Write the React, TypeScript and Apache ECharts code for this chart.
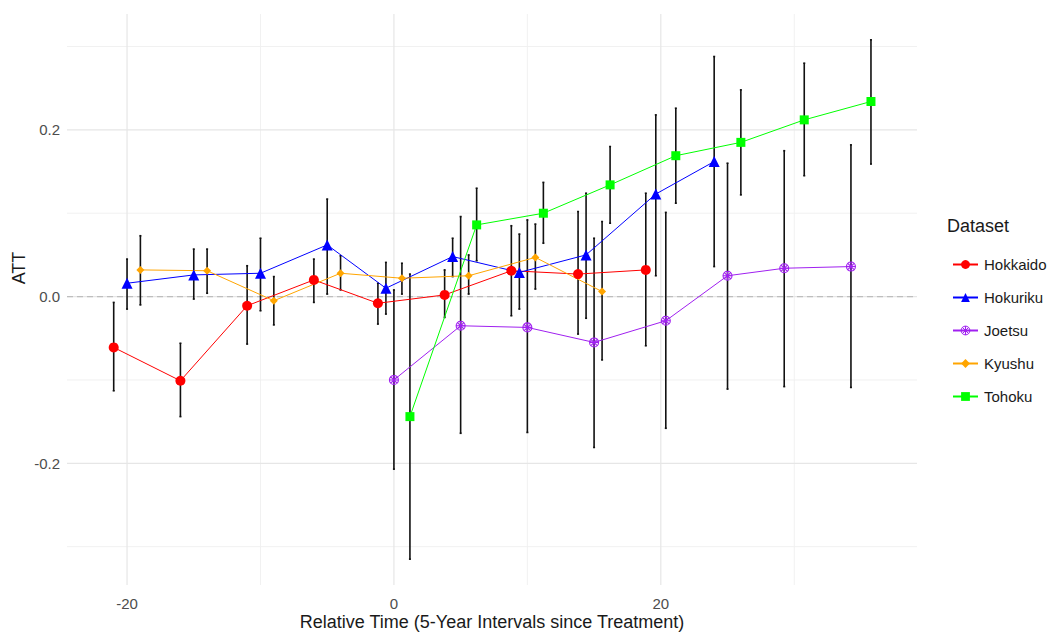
import React, { useEffect, useRef } from "react";
import * as echarts from "echarts";

const FONT = "'Liberation Sans', Arial, Helvetica, sans-serif";

const seriesNames = ["Hokkaido", "Hokuriku", "Joetsu", "Kyushu", "Tohoku"];
const seriesColors = ["#FF0000", "#0000FF", "#A020F0", "#FFA500", "#00FF00"];

// dodged relative-time positions, point estimates and CI bounds
const hokkaidoX = [-21, -16, -11, -6, -1.2, 3.8, 8.8, 13.8, 18.875];
const hokkaidoY = [-0.061, -0.101, -0.011, 0.02, -0.008, 0.002, 0.031, 0.027, 0.032];
const hokkaidoLo = [-0.113, -0.144, -0.057, -0.007, -0.033, -0.025, -0.023, -0.045, -0.059];
const hokkaidoHi = [-0.007, -0.056, 0.037, 0.045, 0.016, 0.032, 0.085, 0.102, 0.124];

const hokurikuX = [-20, -15, -10, -5, -0.6, 4.4, 9.4, 14.4, 19.625, 24];
const hokurikuY = [0.016, 0.026, 0.028, 0.062, 0.01, 0.048, 0.029, 0.05, 0.123, 0.162];
const hokurikuLo = [-0.015, -0.003, -0.017, 0.003, -0.021, 0.024, -0.015, -0.026, 0.025, 0.036];
const hokurikuHi = [0.045, 0.057, 0.07, 0.117, 0.041, 0.07, 0.075, 0.124, 0.218, 0.288];

const joetsuX = [0, 5, 10, 15, 20.375, 25, 29.25, 34.25];
const joetsuY = [-0.1, -0.035, -0.037, -0.055, -0.029, 0.025, 0.034, 0.036];
const joetsuLo = [-0.207, -0.164, -0.163, -0.181, -0.158, -0.111, -0.108, -0.109];
const joetsuHi = [0.008, 0.096, 0.092, 0.07, 0.101, 0.16, 0.175, 0.182];

const kyushuX = [-19, -14, -9, -4, 0.6, 5.6, 10.6, 15.6];
const kyushuY = [0.032, 0.031, -0.005, 0.028, 0.022, 0.025, 0.047, 0.006];
const kyushuLo = [-0.01, 0.004, -0.034, 0.008, 0.003, 0.003, 0.009, -0.076];
const kyushuHi = [0.073, 0.057, 0.024, 0.049, 0.04, 0.05, 0.087, 0.09];

const tohokuX = [1.2, 6.2, 11.2, 16.2, 21.125, 26, 30.75, 35.75];
const tohokuY = [-0.144, 0.086, 0.1, 0.134, 0.169, 0.185, 0.212, 0.234];
const tohokuLo = [-0.315, 0.043, 0.064, 0.088, 0.112, 0.122, 0.145, 0.159];
const tohokuHi = [0.027, 0.13, 0.137, 0.18, 0.226, 0.248, 0.28, 0.308];

const xMajorTicks = [-20, 0, 20];
const xMinorTicks = [-10, 10, 30];
const yMajorTicks = [-0.2, 0, 0.2];
const yMinorTicks = [-0.3, -0.1, 0.1, 0.3];

const JOETSU_SYMBOL =
  "path://M20,10 A10,10 0 1,1 0,10 A10,10 0 1,1 20,10 Z M3,3 L17,17 M17,3 L3,17 M10,0 L10,20 M0,10 L20,10";

const groups = [
  { x: hokkaidoX, y: hokkaidoY, lo: hokkaidoLo, hi: hokkaidoHi, symbol: "circle", size: 10 },
  { x: hokurikuX, y: hokurikuY, lo: hokurikuLo, hi: hokurikuHi, symbol: "triangle", size: 11 },
  { x: joetsuX, y: joetsuY, lo: joetsuLo, hi: joetsuHi, symbol: JOETSU_SYMBOL, size: 9 },
  { x: kyushuX, y: kyushuY, lo: kyushuLo, hi: kyushuHi, symbol: "diamond", size: 8 },
  { x: tohokuX, y: tohokuY, lo: tohokuLo, hi: tohokuHi, symbol: "rect", size: 9 },
];

export default function App() {
  const ref = useRef<HTMLDivElement>(null);

  useEffect(() => {
    if (!ref.current) return;
    const chart = echarts.init(ref.current, null, { renderer: "svg" });

    const errData: number[][] = [];
    groups.forEach((g) => g.x.forEach((v, i) => errData.push([v, g.lo[i], g.hi[i]])));

    // [x, y, orientation (1 = vertical line at x, 0 = horizontal at y), major flag]
    const gridData: number[][] = [
      ...xMinorTicks.map((v) => [v, 0, 1, 0]),
      ...yMinorTicks.map((v) => [0, v, 0, 0]),
      ...xMajorTicks.map((v) => [v, 0, 1, 1]),
      ...yMajorTicks.map((v) => [0, v, 0, 1]),
    ];

    const lineSeries = groups.map((g, k) => {
      const isJoetsu = k === 2;
      return {
        name: seriesNames[k],
        type: "line",
        data: g.x.map((v, i) => [v, g.y[i]]),
        symbol: g.symbol,
        symbolSize: g.size,
        showSymbol: true,
        z: 4,
        lineStyle: { color: seriesColors[k], width: 1 },
        itemStyle: isJoetsu
          ? { color: "rgba(160,32,240,0.08)", borderColor: seriesColors[k], borderWidth: 1.1 }
          : { color: seriesColors[k] },
        emphasis: { disabled: true },
      };
    });

    const legendData = seriesNames.map((n, k) =>
      k === 2
        ? { name: n, itemStyle: { color: "rgba(160,32,240,0.08)", borderColor: seriesColors[k], borderWidth: 1 } }
        : { name: n }
    );

    const option: any = {
      animation: false,
      textStyle: { fontFamily: FONT },
      grid: { left: 67, top: 14, width: 850, height: 571, containLabel: false, outerBoundsMode: "none" },
      xAxis: {
        type: "value",
        min: -24.5,
        max: 39.2,
        axisLine: { show: false },
        axisTick: { show: false },
        splitLine: { show: false },
        axisLabel: {
          customValues: xMajorTicks,
          color: "#4d4d4d",
          fontSize: 15,
          margin: 11,
          fontFamily: FONT,
          formatter: (v: number) => String(v),
        },
      },
      yAxis: {
        type: "value",
        min: -0.346,
        max: 0.339,
        axisLine: { show: false },
        axisTick: { show: false },
        splitLine: { show: false },
        axisLabel: {
          customValues: yMajorTicks,
          color: "#4d4d4d",
          fontSize: 15,
          margin: 7,
          fontFamily: FONT,
          formatter: (v: number) => v.toFixed(1),
        },
      },
      legend: {
        orient: "vertical",
        left: 947,
        top: 252,
        itemWidth: 25,
        itemHeight: 11,
        itemGap: 18,
        data: legendData,
        selectedMode: false,
        textStyle: { fontSize: 15, color: "#1a1a1a", fontFamily: FONT, lineHeight: 11, padding: [0, 0, 0, 1] },
      },
      graphic: [
        {
          type: "text",
          x: 947,
          y: 226,
          style: { text: "Dataset", fontSize: 18, fill: "#1a1a1a", fontFamily: FONT, align: "left", verticalAlign: "middle" },
        },
        {
          type: "text",
          x: 492,
          y: 622,
          style: {
            text: "Relative Time (5-Year Intervals since Treatment)",
            fontSize: 18,
            fill: "#1a1a1a",
            fontFamily: FONT,
            align: "center",
            verticalAlign: "middle",
          },
        },
        {
          type: "text",
          x: 19,
          y: 268,
          rotation: Math.PI / 2,
          style: { text: "ATT", fontSize: 18, fill: "#1a1a1a", fontFamily: FONT, align: "center", verticalAlign: "middle" },
        },
      ],
      series: [
        {
          name: "gridlines",
          type: "custom",
          z: 0,
          silent: true,
          data: gridData,
          encode: { x: 0, y: 1 },
          renderItem: (params: any, api: any) => {
            const cs = params.coordSys;
            const vertical = api.value(2) === 1;
            const major = api.value(3) === 1;
            const style = { stroke: major ? "#e6e6e6" : "#efefef", lineWidth: major ? 1.2 : 0.9 };
            if (vertical) {
              const p = api.coord([api.value(0), 0]);
              return { type: "line", shape: { x1: p[0], y1: cs.y, x2: p[0], y2: cs.y + cs.height }, style };
            }
            const p = api.coord([0, api.value(1)]);
            return { type: "line", shape: { x1: cs.x, y1: p[1], x2: cs.x + cs.width, y2: p[1] }, style };
          },
        },
        {
          name: "zeroline",
          type: "custom",
          z: 1,
          silent: true,
          data: [[0, 0]],
          encode: { x: 0, y: 1 },
          renderItem: (params: any, api: any) => {
            const cs = params.coordSys;
            const p = api.coord([0, api.value(1)]);
            return {
              type: "line",
              shape: { x1: cs.x, y1: p[1], x2: cs.x + cs.width, y2: p[1] },
              style: { stroke: "#bebebe", lineWidth: 1.1, lineDash: [6, 4] },
            };
          },
        },
        {
          name: "errorbars",
          type: "custom",
          z: 3,
          silent: true,
          data: errData,
          encode: { x: 0, y: [1, 2] },
          renderItem: (params: any, api: any) => {
            const x = api.value(0);
            const p1 = api.coord([x, api.value(1)]);
            const p2 = api.coord([x, api.value(2)]);
            const st = { stroke: "#111111", lineWidth: 1.6 };
            return {
              type: "group",
              children: [
                { type: "line", shape: { x1: p1[0], y1: p1[1], x2: p2[0], y2: p2[1] }, style: st },
                { type: "line", shape: { x1: p1[0] - 1, y1: p1[1], x2: p1[0] + 1, y2: p1[1] }, style: st },
                { type: "line", shape: { x1: p2[0] - 1, y1: p2[1], x2: p2[0] + 1, y2: p2[1] }, style: st },
              ],
            };
          },
        },
        ...lineSeries,
      ],
    };

    chart.setOption(option);
    return () => chart.dispose();
  }, []);

  return (
    <div
      ref={ref}
      style={{ position: "fixed", left: 0, top: 0, width: 1053, height: 633, background: "#ffffff" }}
    />
  );
}
